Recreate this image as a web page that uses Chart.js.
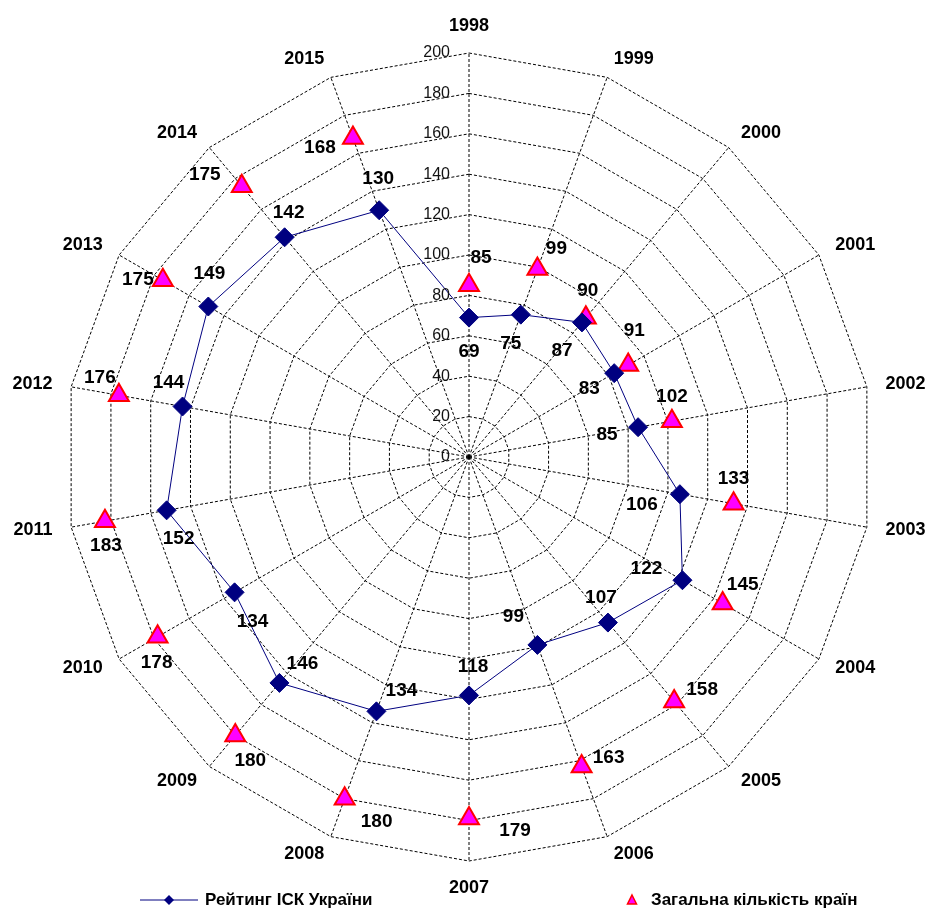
<!DOCTYPE html>
<html>
<head>
<meta charset="utf-8">
<script src="https://cdn.jsdelivr.net/npm/chart.js@4"></script>
<style>
html,body{margin:0;padding:0;background:#fff;}
#wrap{position:relative;width:929px;height:923px;}
</style>
</head>
<body>
<div id="wrap"><canvas id="c"></canvas></div>
<script>
// ---- data ----
const years = ['1998','1999','2000','2001','2002','2003','2004','2005','2006','2007','2008','2009','2010','2011','2012','2013','2014','2015'];
const ratingUkraine = [69,75,87,83,85,106,122,107,99,118,134,146,134,152,144,149,142,130];
const totalCountries = [85,99,90,91,102,133,145,158,163,179,180,180,178,183,176,175,175,168];
const tickValues = [0,20,40,60,80,100,120,140,160,180,200];
const seriesNames = ['Рейтинг ІСК України','Загальна кількість країн'];

// ---- label placement (style) ----
const ratingLabelOffsets = [[0,34],[-10,29],[-20,28],[-25,16],[-31,8],[-38,11],[-36,-11],[-7,-25],[-24,-28],[4,-29],[25,-21],[23,-19],[18,29],[12,28],[-14,-24],[1,-33],[4,-25],[-1,-31]];
const countLabelOffsets = [[12,-28],[19,-20],[2,-27],[6,-34],[0,-24],[0,-25],[20,-19],[28,-12],[27,-9],[46,12],[32,23],[15,25],[-1,26],[1,25],[-19,-17],[-25,0],[-37,-11],[-33,10]];

const FONT = '"Liberation Sans", Arial, sans-serif';

const overlay = {
  id: 'overlay',
  afterDatasetsDraw(chart) {
    const ctx = chart.ctx;
    const s = chart.scales.r;
    const cx = s.xCenter, cy = s.yCenter;
    ctx.save();
    // tick labels
    ctx.font = '16px ' + FONT;
    ctx.fillStyle = '#111';
    ctx.textAlign = 'right';
    ctx.textBaseline = 'middle';
    tickValues.forEach(v => {
      const d = s.getDistanceFromCenterForValue(v);
      ctx.fillText(String(v), cx - 19, cy - d);
    });
    // point (year) labels
    ctx.font = 'bold 18px ' + FONT;
    ctx.fillStyle = '#000';
    const R = s.drawingArea + 19;
    years.forEach((y, i) => {
      const p = s.getPointPosition(i, R);
      const deg = (i * 360 / years.length);
      let align = 'center', dy = 0;
      if (deg === 0) { dy = -8; }
      else if (deg === 180) { dy = 8; }
      else if (deg < 180) align = 'left';
      else align = 'right';
      ctx.textAlign = align;
      ctx.textBaseline = 'middle';
      ctx.fillText(y, p.x, p.y + dy);
    });
    // value labels
    ctx.font = 'bold 19px ' + FONT;
    ctx.textAlign = 'center';
    ctx.textBaseline = 'middle';
    const m0 = chart.getDatasetMeta(0).data;
    const m1 = chart.getDatasetMeta(1).data;
    m0.forEach((pt, i) => {
      const o = ratingLabelOffsets[i];
      ctx.fillText(String(ratingUkraine[i]), pt.x + o[0], pt.y + o[1]);
    });
    m1.forEach((pt, i) => {
      const o = countLabelOffsets[i];
      ctx.fillText(String(totalCountries[i]), pt.x + o[0], pt.y + o[1]);
    });
    // legend
    const ly = 900;
    ctx.strokeStyle = '#000080';
    ctx.lineWidth = 1;
    ctx.beginPath(); ctx.moveTo(140, ly); ctx.lineTo(198, ly); ctx.stroke();
    ctx.fillStyle = '#000080';
    ctx.beginPath();
    ctx.moveTo(169 - 5, ly); ctx.lineTo(169, ly - 5); ctx.lineTo(169 + 5, ly); ctx.lineTo(169, ly + 5);
    ctx.closePath(); ctx.fill();
    ctx.fillStyle = '#000';
    ctx.font = 'bold 17px ' + FONT;
    ctx.textAlign = 'left';
    ctx.fillText(seriesNames[0], 205, ly);
    // triangle marker
    ctx.fillStyle = '#FF00FF';
    ctx.strokeStyle = '#FF0000';
    ctx.lineWidth = 1.5;
    ctx.beginPath();
    ctx.moveTo(632, ly - 5); ctx.lineTo(636.5, ly + 4); ctx.lineTo(627.5, ly + 4); ctx.closePath();
    ctx.fill(); ctx.stroke();
    ctx.fillStyle = '#000';
    ctx.fillText(seriesNames[1], 651, ly);
    ctx.restore();
  }
};

new Chart(document.getElementById('c'), {
  type: 'radar',
  data: {
    labels: years,
    datasets: [
      {
        label: seriesNames[0],
        data: ratingUkraine,
        borderColor: '#000080',
        backgroundColor: '#000080',
        borderWidth: 1,
        fill: false,
        pointStyle: 'rectRot',
        pointRadius: 9.5,
        pointHoverRadius: 9.5,
        pointBackgroundColor: '#000080',
        pointBorderColor: '#000080',
        pointBorderWidth: 1
      },
      {
        label: seriesNames[1],
        data: totalCountries,
        showLine: false,
        borderWidth: 0,
        borderColor: 'rgba(0,0,0,0)',
        fill: false,
        pointStyle: 'triangle',
        pointRadius: 11.5,
        pointHoverRadius: 11.5,
        pointBackgroundColor: '#FF00FF',
        pointBorderColor: '#FF0000',
        pointBorderWidth: 2
      }
    ]
  },
  options: {
    responsive: true,
    maintainAspectRatio: false,
    devicePixelRatio: 1,
    animation: false,
    events: [],
    layout: { padding: { left: 65, right: 56, top: 53, bottom: 62 } },
    plugins: { legend: { display: false }, tooltip: { enabled: false } },
    scales: {
      r: {
        min: 0,
        max: 200,
        ticks: { stepSize: 20, display: false },
        pointLabels: { display: false },
        grid: { color: '#000', lineWidth: 1, circular: false },
        border: { dash: [3, 2] },
        angleLines: { color: '#000', lineWidth: 1, borderDash: [3, 2] }
      }
    }
  },
  plugins: [overlay]
});
</script>
</body>
</html>
